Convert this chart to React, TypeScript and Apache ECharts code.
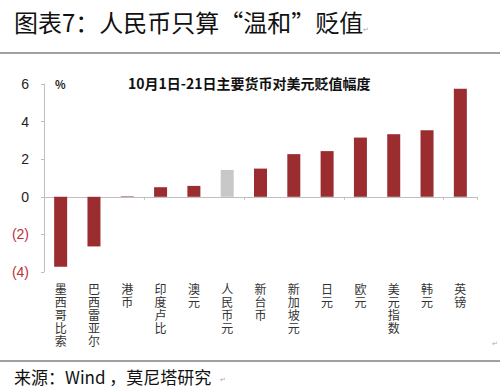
import React, { useEffect, useRef } from "react";
import * as echarts from "echarts";

const categories = ["墨西哥比索", "巴西雷亚尔", "港币", "印度卢比", "澳元", "人民币元", "新台币", "新加坡元", "日元", "欧元", "美元指数", "韩元", "英镑"];
const values = [-3.72, -2.64, 0.03, 0.51, 0.58, 1.43, 1.5, 2.27, 2.43, 3.15, 3.33, 3.54, 5.75];
const highlight = "人民币元";
const figureTitle = "图表7：人民币只算“温和”贬值";
const chartTitle = "10月1日-21日主要货币对美元贬值幅度";
const unit = "%";
const source = "来源：Wind ，莫尼塔研究";

const FONT = "'Noto Sans CJK SC', 'Liberation Sans', sans-serif";

export default function App() {
  const ref = useRef<HTMLDivElement>(null);
  useEffect(() => {
    const chart = echarts.init(ref.current!, null, { renderer: "svg" });
    chart.setOption({
      animation: false,
      backgroundColor: "#ffffff",
      textStyle: { fontFamily: FONT },
      grid: { left: 44, right: 23, top: 84, bottom: 119, containLabel: false },
      xAxis: [
        {
          type: "category",
          data: categories,
          position: "bottom",
          axisLine: { onZero: true, lineStyle: { color: "#bfbfbf", width: 1 } },
          axisTick: { show: true, length: 3, inside: false, lineStyle: { color: "#bfbfbf" } },
          axisLabel: { show: false },
        },
        {
          type: "category",
          data: categories,
          position: "bottom",
          axisLine: { show: false, onZero: false },
          axisTick: { show: false },
          axisLabel: {
            show: true,
            interval: 0,
            margin: 10,
            color: "#333333",
            fontSize: 12,
            lineHeight: 13,
            fontFamily: FONT,
            verticalAlign: "top",
            formatter: (v: string) => v.split("").join("\n"),
          },
        },
      ],
      yAxis: {
        type: "value",
        min: -4,
        max: 6,
        interval: 2,
        splitLine: { show: false },
        axisLine: { show: true, lineStyle: { color: "#bfbfbf" } },
        axisTick: { show: true, length: 3, lineStyle: { color: "#bfbfbf" } },
        axisLabel: {
          margin: 15,
          fontSize: 14,
          fontFamily: "'Liberation Sans', Arial, sans-serif",
          color: "#222222",
          formatter: (v: number) => (v < 0 ? `{neg|(${Math.abs(v)})}` : `${v}`),
          rich: {
            neg: { color: "#c0303a", fontSize: 14, fontFamily: "'Liberation Sans', Arial, sans-serif" },
          },
        },
      },
      series: [
        {
          type: "bar",
          xAxisIndex: 0,
          barWidth: 13,
          data: values.map((v, i) => ({
            value: v,
            itemStyle: { color: categories[i] === highlight ? "#c8c8c8" : "#9b2d30" },
          })),
        },
      ],
      graphic: [
        {
          type: "text",
          left: 14,
          top: 9,
          style: { text: figureTitle, fontSize: 24, fontFamily: FONT, fill: "#111111" },
        },
        {
          type: "text",
          left: 363,
          top: 26,
          style: { text: "↵", fontSize: 7, fill: "#aaaaaa" },
        },
        { type: "rect", shape: { x: 0, y: 52, width: 500, height: 2 }, style: { fill: "#a0a0a0" } },
        {
          type: "text",
          left: 128,
          top: 76,
          style: { text: chartTitle, fontSize: 14, fontWeight: "bold", fontFamily: FONT, fill: "#111111" },
        },
        {
          type: "text",
          left: 55,
          top: 78,
          style: { text: unit, fontSize: 11, fontWeight: "bold", fontFamily: FONT, fill: "#222222" },
        },
        {
          type: "text",
          left: 492,
          top: 340,
          style: { text: "↵", fontSize: 7, fill: "#aaaaaa" },
        },
        { type: "rect", shape: { x: 0, y: 360, width: 500, height: 2 }, style: { fill: "#a0a0a0" } },
        {
          type: "text",
          left: 14,
          top: 368,
          style: { text: source, fontSize: 17, fontFamily: FONT, fill: "#111111" },
        },
        {
          type: "text",
          left: 220,
          top: 376,
          style: { text: "↵", fontSize: 7, fill: "#aaaaaa" },
        },
      ],
    });
    return () => chart.dispose();
  }, []);
  return <div ref={ref} style={{ width: 500, height: 391, position: "absolute", left: 0, top: 0 }} />;
}
